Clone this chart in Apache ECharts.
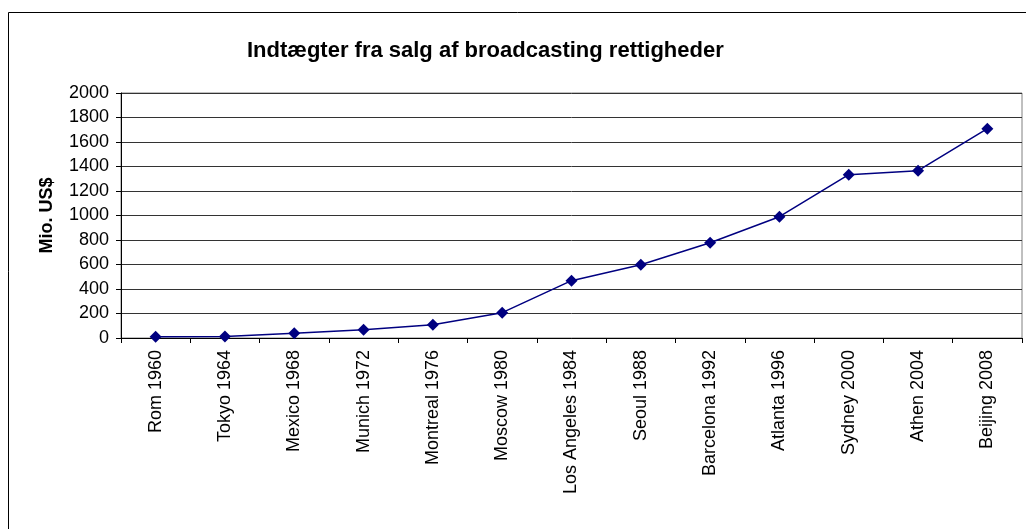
<!DOCTYPE html>
<html>
<head>
<meta charset="utf-8">
<title>Indtægter fra salg af broadcasting rettigheder</title>
<script src="https://cdn.jsdelivr.net/npm/echarts@6/dist/echarts.min.js"></script>
<style>
    html, body { margin: 0; padding: 0; background: #fff; }
    #main { width: 1026px; height: 529px; }
</style>
</head>
<body>
<div id="main"></div>
<script>
var games = ['Rom 1960', 'Tokyo 1964', 'Mexico 1968', 'Munich 1972', 'Montreal 1976', 'Moscow 1980',
    'Los Angeles 1984', 'Seoul 1988', 'Barcelona 1992', 'Atlanta 1996', 'Sydney 2000', 'Athen 2004', 'Beijing 2008'];
var revenue = [10, 12, 38, 68, 109, 207, 468, 598, 778, 990, 1333, 1366, 1709];
var yMin = 0;
var yMax = 2000;
var yStep = 200;

var font = 'Liberation Sans, Arial, sans-serif';

var myChart = echarts.init(document.getElementById('main'));

var option = {
    animation: false,
    title: {
        text: 'Indtægter fra salg af broadcasting rettigheder',
        left: 242,
        top: 35,
        textStyle: {
            fontFamily: font,
            fontSize: 22,
            fontWeight: 'bold',
            color: '#000'
        }
    },
    graphic: [{
        type: 'rect',
        shape: { x: 8.5, y: 12.5, width: 1100, height: 600 },
        style: { fill: 'none', stroke: '#000', lineWidth: 1 },
        silent: true
    }],
    grid: {
        left: 121,
        right: 4,
        top: 93,
        bottom: 191,
        show: true,
        borderColor: '#808080',
        borderWidth: 1
    },
    xAxis: {
        type: 'category',
        data: games,
        boundaryGap: true,
        axisLine: { lineStyle: { color: '#000', width: 1 } },
        axisTick: { show: true, length: 5, inside: false, lineStyle: { color: '#000' } },
        axisLabel: {
            rotate: 90,
            margin: 12,
            fontFamily: font,
            fontSize: 18,
            color: '#000',
            interval: 0
        },
        splitLine: { show: false }
    },
    yAxis: {
        type: 'value',
        min: yMin,
        max: yMax,
        interval: yStep,
        name: 'Mio. US$',
        nameLocation: 'middle',
        nameRotate: 90,
        nameGap: 65,
        nameTextStyle: {
            fontFamily: font,
            fontSize: 18,
            fontWeight: 'bold',
            color: '#000'
        },
        axisLine: { show: true, lineStyle: { color: '#000', width: 1 } },
        axisTick: { show: true, length: 5, lineStyle: { color: '#000' } },
        axisLabel: {
            margin: 12,
            fontFamily: font,
            fontSize: 18,
            color: '#000',
            formatter: function (v) { return String(v); }
        },
        splitLine: { show: true, lineStyle: { color: '#333', width: 1 } }
    },
    series: [{
        name: 'Mio. US$',
        type: 'line',
        data: revenue,
        symbol: 'diamond',
        symbolSize: 12,
        itemStyle: { color: '#000080' },
        lineStyle: { color: '#000080', width: 1.5 }
    }]
};

myChart.setOption(option);
</script>
</body>
</html>
